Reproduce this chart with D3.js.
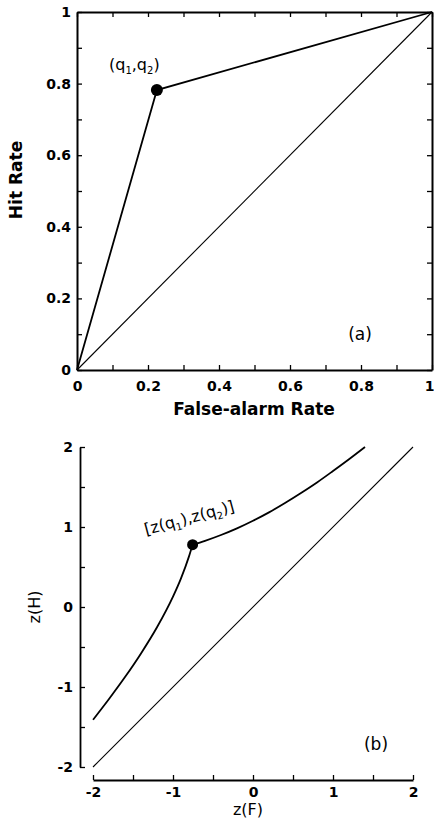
<!DOCTYPE html>
<html>
<head>
<meta charset="utf-8">
<script src="https://cdn.jsdelivr.net/npm/d3@7/dist/d3.min.js"></script>
<style>
  body { margin: 0; background: #fff; }
  svg { display: block; }
  .tick text { font-family: "DejaVu Sans", sans-serif; font-weight: bold; font-size: 14px; fill: #000; }
  .domain, .tick line { stroke: #000; }
  .lbl { font-family: "DejaVu Sans", sans-serif; fill: #000; }
</style>
</head>
<body>
<div id="chart"></div>
<script>
// panel (a): ROC in probability space
var rocF = [0, 0.225, 1];
var rocH = [0, 0.782, 1];
var chanceA = [0, 1];
var tickA = [0, 0.1, 0.2, 0.3, 0.4, 0.5, 0.6, 0.7, 0.8, 0.9, 1];
var labelA = {"0": "0", "0.2": "0.2", "0.4": "0.4", "0.6": "0.6", "0.8": "0.8", "1": "1"};

// panel (b): same ROC in z-space
var lowZF = [-2, -1.8, -1.6, -1.4, -1.2, -1.0, -0.9, -0.8, -0.755];
var lowZH = [-1.41, -1.15, -0.876, -0.58, -0.253, 0.13, 0.358, 0.633, 0.779];
var upZF = [-0.755, -0.6, -0.4, -0.2, 0, 0.2, 0.4, 0.6, 0.8, 1.0, 1.2, 1.4];
var upZH = [0.779, 0.827, 0.9, 0.983, 1.078, 1.183, 1.3, 1.425, 1.557, 1.7, 1.847, 2.0];
var chanceB = [-2, 2];
var tickB = [-2, -1.5, -1, -0.5, 0, 0.5, 1, 1.5, 2];
var labelB = {"-2": "-2", "-1": "-1", "0": "0", "1": "1", "2": "2"};

var W = 434, H = 827;
var svg = d3.select("#chart").append("svg").attr("width", W).attr("height", H);

function fmt(map) { return function(d) { var k = String(+d.toFixed(2)); return map[k] !== undefined ? map[k] : ""; }; }

function styleAxis(g, w) {
    g.select(".domain").attr("stroke-width", w);
    g.selectAll(".tick line").attr("stroke-width", 1.3);
}

// ---------- panel (a) ----------
var xa = d3.scaleLinear().domain([0, 1]).range([77, 432]);
var ya = d3.scaleLinear().domain([0, 1]).range([370, 12]);

var gA = svg.append("g");

var bottomA = gA.append("g").attr("transform", "translate(0," + ya(0) + ")")
    .call(d3.axisBottom(xa).tickValues(tickA).tickSize(-5).tickSizeOuter(0).tickPadding(11).tickFormat(fmt(labelA)))
    .call(styleAxis, 2);
// last label sits on the page edge: pull it inside
bottomA.selectAll(".tick text").filter(function(d) { return d === 1; }).attr("text-anchor", "end").attr("x", 2);

gA.append("g").attr("transform", "translate(" + xa(0) + ",0)")
    .call(d3.axisLeft(ya).tickValues(tickA).tickSize(-5).tickSizeOuter(0).tickPadding(6).tickFormat(fmt(labelA)))
    .call(styleAxis, 2);
gA.append("g").attr("transform", "translate(0," + ya(1) + ")")
    .call(d3.axisTop(xa).tickValues(tickA).tickSize(-5).tickSizeOuter(0).tickFormat(""))
    .call(styleAxis, 2);
gA.append("g").attr("transform", "translate(" + xa(1) + ",0)")
    .call(d3.axisRight(ya).tickValues(tickA).tickSize(-5).tickSizeOuter(0).tickFormat(""))
    .call(styleAxis, 2);

var lineA = d3.line().x(function(d) { return xa(d[0]); }).y(function(d) { return ya(d[1]); });

gA.append("path")
    .datum(chanceA.map(function(v) { return [v, v]; }))
    .attr("d", lineA).attr("fill", "none").attr("stroke", "#000").attr("stroke-width", 1.1);
gA.append("path")
    .datum(rocF.map(function(f, i) { return [f, rocH[i]]; }))
    .attr("d", lineA).attr("fill", "none").attr("stroke", "#000").attr("stroke-width", 1.8);
gA.append("circle").attr("cx", xa(rocF[1])).attr("cy", ya(rocH[1])).attr("r", 6).attr("fill", "#000");

var qa = gA.append("text").attr("class", "lbl").attr("x", 109).attr("y", 70).style("font-size", "16px");
qa.append("tspan").text("(q");
qa.append("tspan").attr("dy", 4).style("font-size", "10px").text("1");
qa.append("tspan").attr("dy", -4).text(",q");
qa.append("tspan").attr("dy", 4).style("font-size", "10px").text("2");
qa.append("tspan").attr("dy", -4).text(")");

gA.append("text").attr("class", "lbl").attr("x", 360).attr("y", 340)
    .attr("text-anchor", "middle").style("font-size", "17px").text("(a)");

gA.append("text").attr("class", "lbl").attr("x", 254).attr("y", 415)
    .attr("text-anchor", "middle").style("font-size", "17px").style("font-weight", "bold")
    .text("False-alarm Rate");
gA.append("text").attr("class", "lbl")
    .attr("transform", "translate(22,180) rotate(-90)")
    .attr("text-anchor", "middle").style("font-size", "17px").style("font-weight", "bold")
    .text("Hit Rate");

// ---------- panel (b) ----------
var xb = d3.scaleLinear().domain([-2, 2]).range([93, 413]);
var yb = d3.scaleLinear().domain([-2, 2]).range([767, 447]);

var gB = svg.append("g");

gB.append("g").attr("transform", "translate(0,780)")
    .call(d3.axisBottom(xb).tickValues(tickB).tickSize(-5).tickSizeOuter(0).tickPadding(7).tickFormat(fmt(labelB)))
    .call(styleAxis, 1.8);
gB.append("g").attr("transform", "translate(80,0)")
    .call(d3.axisLeft(yb).tickValues(tickB).tickSize(-5).tickSizeOuter(0).tickPadding(7).tickFormat(fmt(labelB)))
    .call(styleAxis, 1.8);

var lineB = d3.line().x(function(d) { return xb(d[0]); }).y(function(d) { return yb(d[1]); });
var curveB = d3.line().curve(d3.curveMonotoneX).x(function(d) { return xb(d[0]); }).y(function(d) { return yb(d[1]); });

gB.append("path")
    .datum(chanceB.map(function(v) { return [v, v]; }))
    .attr("d", lineB).attr("fill", "none").attr("stroke", "#000").attr("stroke-width", 1.1);
gB.append("path")
    .datum(lowZF.map(function(f, i) { return [f, lowZH[i]]; }))
    .attr("d", curveB).attr("fill", "none").attr("stroke", "#000").attr("stroke-width", 1.8);
gB.append("path")
    .datum(upZF.map(function(f, i) { return [f, upZH[i]]; }))
    .attr("d", curveB).attr("fill", "none").attr("stroke", "#000").attr("stroke-width", 1.8);
gB.append("circle").attr("cx", xb(upZF[0])).attr("cy", yb(upZH[0])).attr("r", 5.5).attr("fill", "#000");

var qb = gB.append("text").attr("class", "lbl")
    .attr("transform", "translate(146,535) rotate(-15)").style("font-size", "16px");
qb.append("tspan").text("[z(q");
qb.append("tspan").attr("dy", 4).style("font-size", "10px").text("1");
qb.append("tspan").attr("dy", -4).text("),z(q");
qb.append("tspan").attr("dy", 4).style("font-size", "10px").text("2");
qb.append("tspan").attr("dy", -4).text(")]");

gB.append("text").attr("class", "lbl").attr("x", 376).attr("y", 750)
    .attr("text-anchor", "middle").style("font-size", "17px").text("(b)");

gB.append("text").attr("class", "lbl").attr("x", 248).attr("y", 815)
    .attr("text-anchor", "middle").style("font-size", "16px").text("z(F)");
gB.append("text").attr("class", "lbl")
    .attr("transform", "translate(40,607) rotate(-90)")
    .attr("text-anchor", "middle").style("font-size", "16px").text("z(H)");
</script>
</body>
</html>
